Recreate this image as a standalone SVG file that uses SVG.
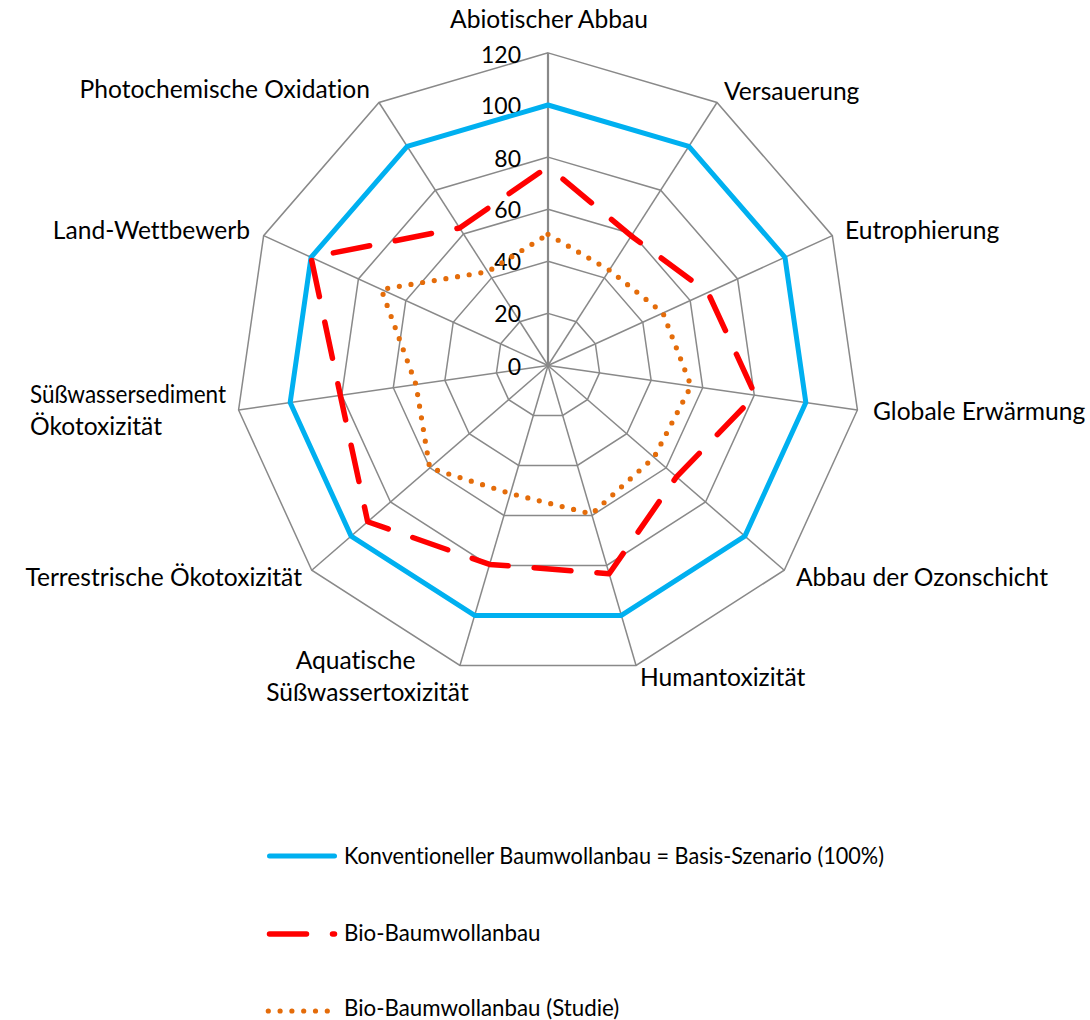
<svg xmlns="http://www.w3.org/2000/svg" width="1090" height="1020" viewBox="0 0 1090 1020">
  <style>
    .grid { fill: none; stroke: #898989; stroke-width: 1.5; }
    .axis { stroke: #898989; stroke-width: 2.2; }
    text { font-family: Lato, "Liberation Sans", sans-serif; fill: #000; font-variant-ligatures: none; }
    .lbl { font-size: 24.6px; }
    .leg { font-size: 22.3px; }
    .tick { font-size: 23px; text-anchor: end; }
    .conv { fill: none; stroke: #00b0f0; stroke-width: 5; stroke-linejoin: round; stroke-linecap: round; }
    .bio { fill: none; stroke: #ff0000; stroke-width: 5.5; stroke-linejoin: round; stroke-linecap: round; stroke-dasharray: 37 26; }
    .study { fill: none; stroke: #e46c0a; stroke-width: 5.2; stroke-linecap: round; stroke-dasharray: 0 11.8; }
  </style>
  <rect width="1090" height="1020" fill="#fff"/>

  <!-- grid: 11-sided rings every 20 units (0..120), spokes to 120 -->
  <g id="grid">
    <polygon class="grid" points="548,313.4 576.17,321.67 595.39,343.86 599.57,372.91 587.37,399.62 562.68,415.49 533.32,415.49 508.63,399.62 496.43,372.91 500.61,343.86 519.83,321.67"/>
    <polygon class="grid" points="548,261.3 604.34,277.84 642.78,322.21 651.14,380.33 626.75,433.74 577.36,465.48 518.64,465.48 469.25,433.74 444.86,380.33 453.22,322.21 491.66,277.84"/>
    <polygon class="grid" points="548,209.2 632.5,234.01 690.18,300.57 702.71,387.74 666.12,467.85 592.03,515.47 503.97,515.47 429.88,467.85 393.29,387.74 405.82,300.57 463.5,234.01"/>
    <polygon class="grid" points="548,157.1 660.67,190.18 737.57,278.93 754.28,395.16 705.5,501.97 606.71,565.46 489.29,565.46 390.5,501.97 341.72,395.16 358.43,278.93 435.33,190.18"/>
    <polygon class="grid" points="548,105 688.84,146.35 784.96,257.28 805.85,402.57 744.87,536.09 621.39,615.45 474.61,615.45 351.13,536.09 290.15,402.57 311.04,257.28 407.16,146.35"/>
    <polygon class="grid" points="548,52.9 717,102.53 832.35,235.64 857.42,409.99 784.25,570.21 636.07,665.44 459.93,665.44 311.75,570.21 238.58,409.99 263.65,235.64 379,102.53"/>
    <line class="grid" x1="548" y1="365.5" x2="717" y2="102.53"/>
    <line class="grid" x1="548" y1="365.5" x2="832.35" y2="235.64"/>
    <line class="grid" x1="548" y1="365.5" x2="857.42" y2="409.99"/>
    <line class="grid" x1="548" y1="365.5" x2="784.25" y2="570.21"/>
    <line class="grid" x1="548" y1="365.5" x2="636.07" y2="665.44"/>
    <line class="grid" x1="548" y1="365.5" x2="459.93" y2="665.44"/>
    <line class="grid" x1="548" y1="365.5" x2="311.75" y2="570.21"/>
    <line class="grid" x1="548" y1="365.5" x2="238.58" y2="409.99"/>
    <line class="grid" x1="548" y1="365.5" x2="263.65" y2="235.64"/>
    <line class="grid" x1="548" y1="365.5" x2="379" y2="102.53"/>
    <line class="axis" x1="548" y1="365.5" x2="548" y2="52.9"/>
  </g>

  <!-- value axis labels -->
  <g id="ticks">
    <text class="tick" x="521" y="62.7">120</text>
    <text class="tick" x="521" y="114">100</text>
    <text class="tick" x="521" y="166.7">80</text>
    <text class="tick" x="521" y="218.3">60</text>
    <text class="tick" x="521" y="270">40</text>
    <text class="tick" x="521" y="322">20</text>
    <text class="tick" x="521" y="375">0</text>
  </g>

  <!-- data series -->
  <g id="series">
    <polygon id="s-conv" class="conv" points="548,105 688.84,146.35 784.96,257.28 805.85,402.57 744.87,536.09 621.39,615.45 474.61,615.45 351.13,536.09 290.15,402.57 311.04,257.28 407.16,146.35"/>
    <path id="s-bio" class="bio" style="stroke-dashoffset:43.5" d="M548,166.7 L631.26,235.95 L707.91,292.47 L755.37,395.31 L676.48,476.83 L609.14,573.71 L489.6,564.4 L367.68,521.75 L340.34,395.36 L311.04,257.28 L459.61,227.96 Z"/>
    <path id="s-study" class="study" d="M548,234.3 L609.31,270.1 L662.98,312.99 L691.03,386.06 L654.03,457.38 L591.61,514.03 L510.42,493.5 L429.73,467.99 L415.96,384.48 L381.26,289.35 L487.72,271.7 Z"/>
  </g>

  <!-- category labels -->
  <g id="labels">
    <text class="lbl" x="549" y="28" text-anchor="middle">Abiotischer Abbau</text>
    <text class="lbl" x="724" y="100">Versauerung</text>
    <text class="lbl" x="845" y="239">Eutrophierung</text>
    <text class="lbl" x="873" y="420">Globale Erwärmung</text>
    <text class="lbl" x="796" y="586">Abbau der Ozonschicht</text>
    <text class="lbl" x="640" y="686">Humantoxizität</text>
    <text class="lbl" x="355.5" y="669" text-anchor="middle">Aquatische</text>
    <text class="lbl" x="367.5" y="701" text-anchor="middle">Süßwassertoxizität</text>
    <text class="lbl" x="302" y="586" text-anchor="end">Terrestrische Ökotoxizität</text>
    <text class="lbl" x="30" y="403" textLength="196" lengthAdjust="spacingAndGlyphs">Süßwassersediment</text>
    <text class="lbl" x="30" y="435">Ökotoxizität</text>
    <text class="lbl" x="250" y="239" text-anchor="end">Land-Wettbewerb</text>
    <text class="lbl" x="370" y="98" text-anchor="end">Photochemische Oxidation</text>
  </g>

  <!-- legend -->
  <g id="legend">
    <line class="conv" x1="269.5" y1="856" x2="334.5" y2="856"/>
    <text class="leg" x="344" y="864" textLength="540" lengthAdjust="spacingAndGlyphs">Konventioneller Baumwollanbau = Basis-Szenario (100%)</text>
    <line class="bio" x1="269.5" y1="934" x2="334.5" y2="934"/>
    <text class="leg" x="344" y="941">Bio-Baumwollanbau</text>
    <line class="study" x1="268.3" y1="1011" x2="328.5" y2="1011"/>
    <text class="leg" x="344" y="1015.5">Bio-Baumwollanbau (Studie)</text>
  </g>
</svg>
